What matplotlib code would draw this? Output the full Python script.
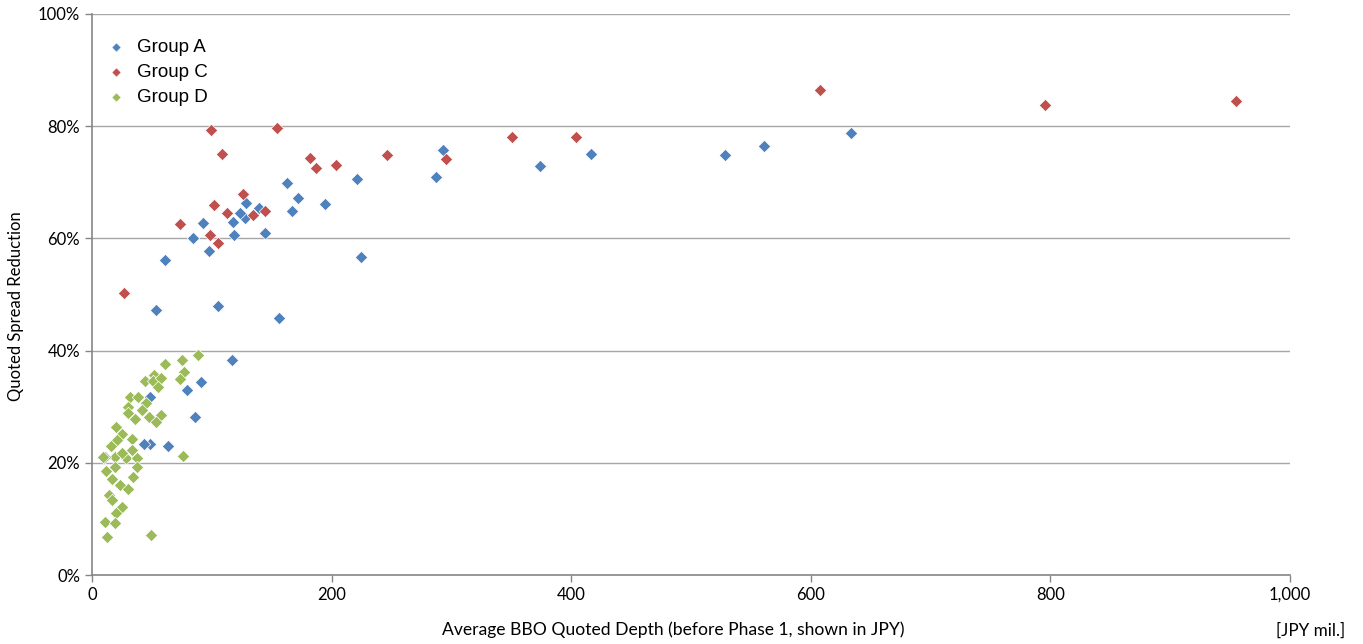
import matplotlib
matplotlib.use('AGG')
import matplotlib.pyplot as plt
import matplotlib.ticker as ticker

# Group A (blue)
a_x = [633.6, 561, 528, 416.5, 374, 293, 287, 221, 224.5, 194.5, 172, 167, 162.6,
       156, 144, 139.4, 128.5, 127.7, 123.5, 118.5, 117.7, 105, 117, 97.7, 92.5,
       84.3, 61, 53.4, 91, 79, 86, 63.4, 48.4, 48.4, 43.4]
a_y = [78.8, 76.5, 74.9, 75.0, 72.9, 75.8, 70.9, 70.6, 56.7, 66.1, 67.2, 64.9, 69.9,
       45.8, 61.0, 65.4, 66.3, 63.6, 64.5, 60.6, 62.9, 48.0, 38.3, 57.8, 62.8,
       60.1, 56.1, 47.2, 34.4, 33.0, 28.2, 23.0, 31.7, 23.4, 23.4]

# Group C (red)
c_x = [607.7, 795.5, 955, 404, 350.6, 295.5, 246, 203.7, 187, 182, 154.4, 144.4,
       134.4, 126, 113, 108.5, 102, 99.3, 98.5, 105, 73.5, 26.7]
c_y = [86.5, 83.8, 84.5, 78.1, 78.1, 74.2, 74.9, 73.1, 72.6, 74.3, 79.7, 64.8,
       64.2, 67.9, 64.5, 75.0, 66.0, 79.3, 60.6, 59.2, 62.5, 50.2]

# Group D (green)
d_x = [88.7, 74.8, 61, 77, 73.5, 52, 44, 50.6, 58, 55.4, 31.7, 38.7, 45, 30.3,
       41.4, 30.3, 35.9, 47.6, 57.6, 53.7, 20, 24.8, 21.1, 33, 15.9, 33, 19.2,
       10.9, 28.1, 37.8, 25, 11.4, 19.2, 37.3, 16.4, 34.5, 23.4, 29.8, 14.2,
       16.5, 24.8, 19.8, 10.9, 19.2, 12.3, 49.2, 75.7, 9.5]
d_y = [39.3, 38.3, 37.6, 36.1, 34.9, 35.7, 34.5, 34.5, 35.1, 33.6, 31.8, 31.8,
       30.7, 30.0, 29.5, 28.9, 27.8, 28.2, 28.5, 27.3, 26.4, 25.2, 24.1, 24.2,
       23.0, 22.3, 21.1, 21.0, 20.8, 20.8, 21.7, 18.6, 19.3, 19.3, 17.1, 17.5,
       16.0, 15.3, 14.3, 13.4, 12.2, 11.0, 9.4, 9.2, 6.7, 7.1, 21.3, 21.0]

groups = ['Group A', 'Group C', 'Group D']
colors = ['#4F81BD', '#C0504D', '#9BBB59']
grid_c = '#A6A6A6'

fig = plt.figure(figsize=(13.63, 6.44), dpi=100)
ax = fig.add_axes([0.0675, 0.1071, 0.8789, 0.8712])

for xs, ys, name, col in zip([a_x, c_x, d_x], [a_y, c_y, d_y], groups, colors):
    ax.scatter(xs, [v / 100 for v in ys], marker='D', s=40, c=col,
               edgecolors='white', linewidths=0.5, label=name, zorder=3)

ax.set_xlim(0, 1000)
ax.set_ylim(0, 1.0)
ax.xaxis.set_major_locator(ticker.MultipleLocator(200))
ax.yaxis.set_major_locator(ticker.MultipleLocator(0.2))
ax.xaxis.set_major_formatter(ticker.FuncFormatter(lambda v, p: '{:,.0f}'.format(v)))
ax.yaxis.set_major_formatter(ticker.FuncFormatter(lambda v, p: '{:.0f}%'.format(v * 100)))
ax.grid(axis='y', color=grid_c, linewidth=1.0, zorder=0)
ax.set_axisbelow(True)

for s in ['top', 'right']:
    ax.spines[s].set_visible(False)
for s in ['left', 'bottom']:
    ax.spines[s].set_color('#868686')
    ax.spines[s].set_linewidth(1.2)
ax.tick_params(colors='#868686', labelcolor='black', length=5, width=1, labelsize=12)
for lab in ax.get_xticklabels() + ax.get_yticklabels():
    lab.set_family('Lato')

ax.set_xlabel('Average BBO Quoted Depth (before Phase 1, shown in JPY)',
              fontsize=12.6, family='Lato')
ax.xaxis.set_label_coords(0.485, -0.083)
fig.text(16 / 1363, 0.525, 'Quoted Spread Reduction', fontsize=12, family='Lato',
         rotation=90, ha='center', va='center')
fig.text(0.9615, 0.012, '[JPY mil.]', fontsize=12.3, family='Lato', ha='center')

leg = ax.legend(loc='upper left', bbox_to_anchor=(-0.006, 0.985), frameon=False,
                prop={'family': 'Liberation Sans', 'size': 13.5},
                handletextpad=0.4, labelspacing=0.42, markerscale=0.75,
                borderpad=0.4, handlelength=1.5)

fig.savefig('out.png', dpi=100)
